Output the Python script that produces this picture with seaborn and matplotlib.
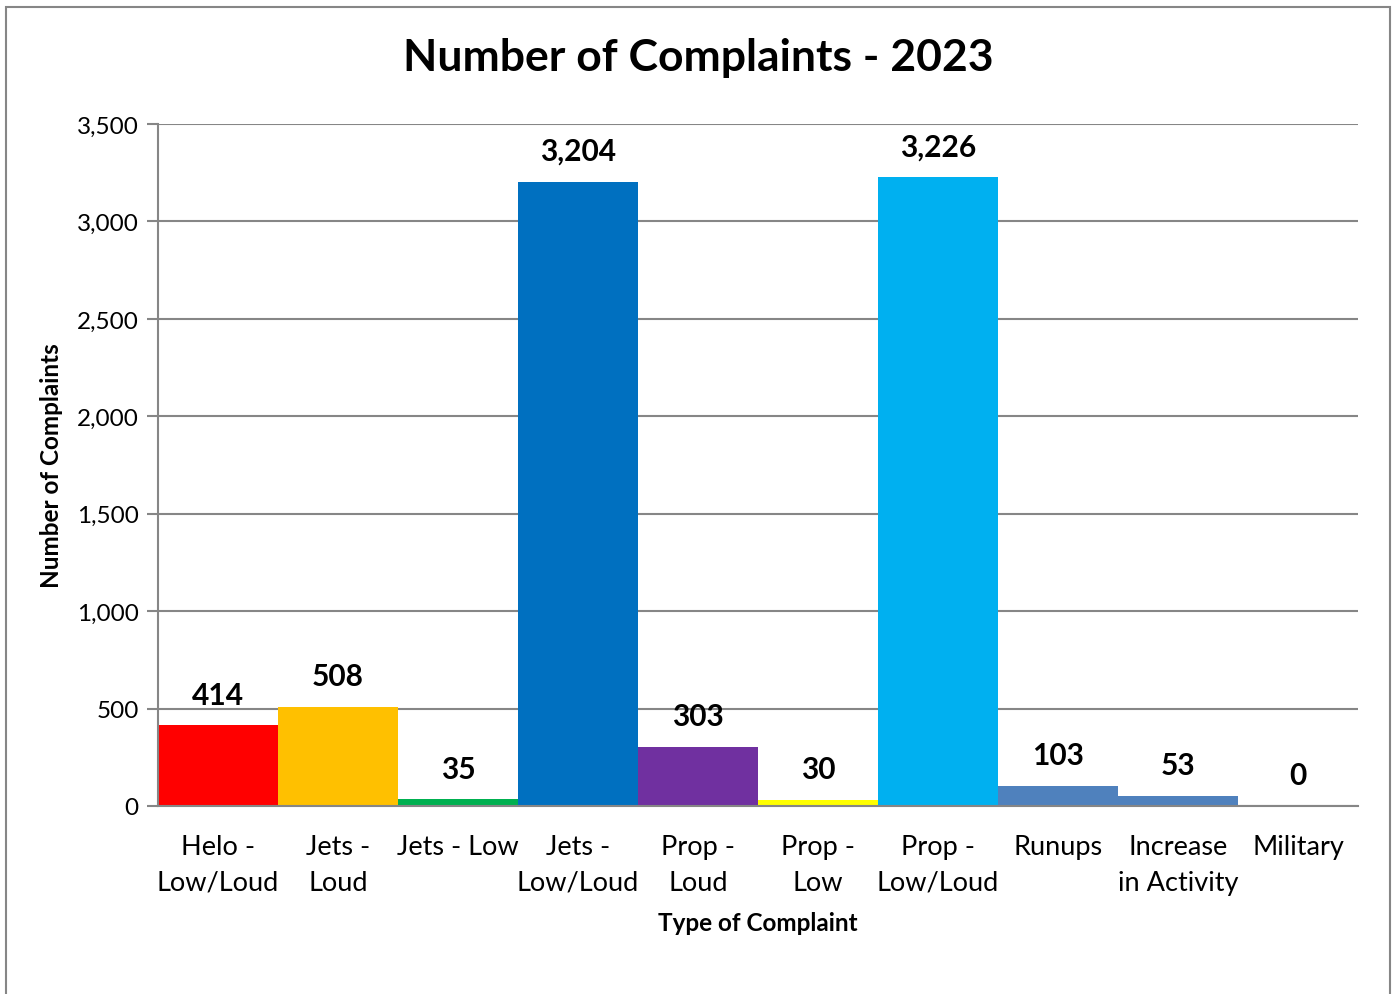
import matplotlib
matplotlib.use("Agg")
import matplotlib.pyplot as plt
import matplotlib.patches as mpatches
import seaborn as sns
import pandas as pd


categories = ["Helo -\nLow/Loud", "Jets -\nLoud", "Jets - Low", "Jets -\nLow/Loud",
              "Prop -\nLoud", "Prop -\nLow", "Prop -\nLow/Loud", "Runups",
              "Increase\nin Activity", "Military"]
complaints = [414, 508, 35, 3204, 303, 30, 3226, 103, 53, 0]
bar_colors = ["#FF0000", "#FFC000", "#00B050", "#0070C0", "#7030A0",
              "#FFFF00", "#00B0F0", "#4F81BD", "#4F81BD", "#4F81BD"]
y_ticks = [0, 500, 1000, 1500, 2000, 2500, 3000, 3500]


#----------------------------------------------------------------------------------------------------
sns.set_theme(style="white")
plt.rcParams["font.family"] = ["Lato", "DejaVu Sans"]
plt.rcParams["text.color"] = "black"
plt.rcParams["axes.labelcolor"] = "black"
plt.rcParams["xtick.color"] = "black"
plt.rcParams["ytick.color"] = "black"

df = pd.DataFrame({"category": categories, "count": complaints})

fig = plt.figure(figsize=(13.94, 9.95), dpi=100)
ax = fig.add_axes([158 / 1394, 1 - 807 / 995, 1200 / 1394, 682 / 995])

sns.barplot(
    data=df, x="category", y="count", hue="category",
    palette=bar_colors, width=1.0, legend=False, ax=ax,
    saturation=1, linewidth=0,
)

ax.set_ylim(0, 3500)
ax.set_xlim(-0.5, len(categories) - 0.5)
ax.set_yticks(y_ticks)
ax.set_yticklabels([f"{v:,}" for v in y_ticks])
ax.yaxis.grid(True, color="#868686", linewidth=1.5)
ax.set_axisbelow(True)

for side in ["top", "right"]:
    ax.spines[side].set_visible(False)
for side in ["left", "bottom"]:
    ax.spines[side].set_color("#868686")
    ax.spines[side].set_linewidth(1.5)

ax.tick_params(axis="y", which="both", left=True, length=8, width=1.5,
               color="#868686", labelcolor="black", labelsize=17.5, pad=6)
ax.tick_params(axis="x", bottom=False, labelsize=19.5, labelcolor="black", pad=14)
for lbl in ax.get_xticklabels():
    lbl.set_linespacing(1.55)

#----------------------------------------------------------------------------------------------------
for i, v in enumerate(complaints):
    ax.annotate(f"{v:,}", xy=(i, v), xytext=(0, 12), textcoords="offset points",
                ha="center", va="bottom", fontsize=21.5, fontweight="bold", color="black")

ax.set_xlabel("Type of Complaint", fontsize=17.5, fontweight="bold", labelpad=12)
ax.set_ylabel("Number of Complaints", fontsize=17.5, fontweight="bold", labelpad=10)
fig.text(698 / 1394, 1 - 58 / 995, "Number of Complaints - 2023",
         ha="center", va="center", fontsize=32, fontweight="bold", color="black")

fig.patches.append(mpatches.Rectangle((6 / 1394, -0.05), 1384 / 1394, 1.05 - 8 / 995,
                                      transform=fig.transFigure, fill=False,
                                      edgecolor="#868686", linewidth=1.5))

fig.savefig("out.png", dpi=100)
